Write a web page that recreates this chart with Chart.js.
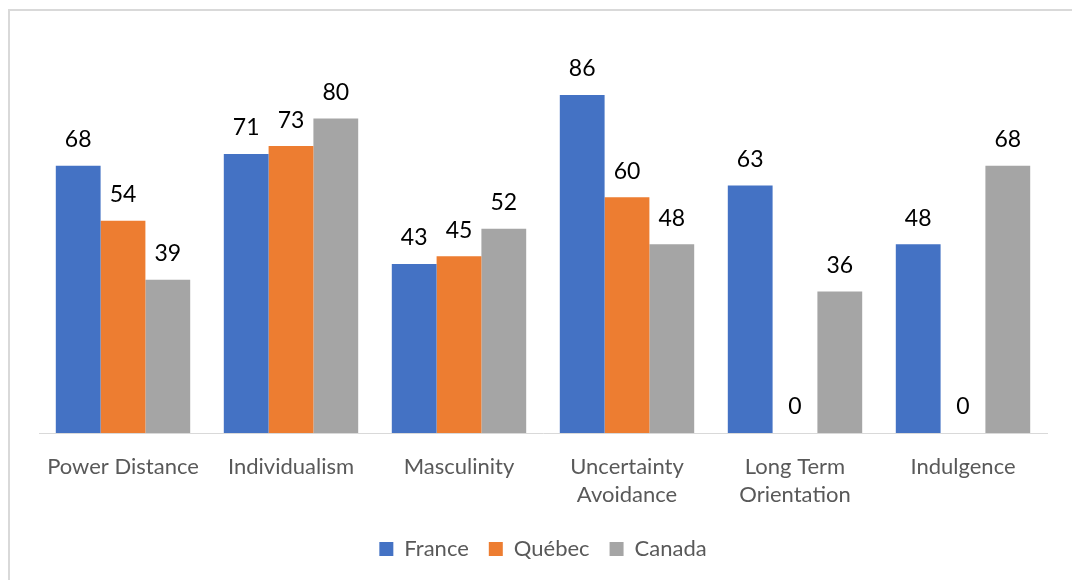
<!DOCTYPE html>
<html>
<head>
<meta charset="utf-8">
<script src="https://cdn.jsdelivr.net/npm/chart.js@4/dist/chart.umd.min.js"></script>
<style>
  html, body { margin: 0; padding: 0; background: #fff; }
  #wrap { position: relative; width: 1072px; height: 580px; overflow: hidden; }
  #frame { position: absolute; left: 8px; top: 9px; width: 1080px; height: 600px;
           border: 2px solid #d9d9d9; box-sizing: border-box; }
  canvas { position: absolute; left: 0; top: 0; }
</style>
</head>
<body>
<div id="wrap">
  <div id="frame"></div>
  <canvas id="hofstedeChart" width="1072" height="580"></canvas>
</div>
<script>
// dimensions and scores
const dimensions = ["Power Distance", "Individualism", "Masculinity",
  ["Uncertainty", "Avoidance"], ["Long Term", "Orientation"], "Indulgence"];
const france = [68, 71, 43, 86, 63, 48];
const quebec = [54, 73, 45, 60, 0, 0];
const canada = [39, 80, 52, 48, 36, 68];

// value labels above each bar
const barLabels = {
  id: "barLabels",
  afterDatasetsDraw(chart) {
    const ctx = chart.ctx;
    ctx.save();
    ctx.font = "23px Lato";
    ctx.fillStyle = "#000";
    ctx.textAlign = "center";
    ctx.textBaseline = "middle";
    chart.data.datasets.forEach((ds, i) => {
      chart.getDatasetMeta(i).data.forEach((bar, j) => {
        ctx.fillText(ds.data[j], bar.x, bar.y - 26);
      });
    });
    ctx.restore();
  }
};

new Chart(document.getElementById("hofstedeChart"), {
  type: "bar",
  data: {
    labels: dimensions,
    datasets: [
      { label: "France", data: france, backgroundColor: "#4472C4" },
      { label: "Québec", data: quebec, backgroundColor: "#ED7D31" },
      { label: "Canada", data: canada, backgroundColor: "#A5A5A5" }
    ]
  },
  options: {
    responsive: false,
    animation: false,
    devicePixelRatio: 1,
    layout: { padding: { left: 39, right: 25, top: 40, bottom: 10 } },
    datasets: { bar: { categoryPercentage: 0.8, barPercentage: 1.0 } },
    scales: {
      x: {
        grid: { display: false },
        border: { display: true, color: "#d9d9d9", width: 1 },
        ticks: {
          color: "#595959",
          font: { family: "Lato", size: 22, lineHeight: 1.27 },
          padding: 12,
          maxRotation: 0,
          autoSkip: false
        },
        afterFit(scale) { scale.height = 85; }
      },
      y: { display: false, min: 0, max: 100 }
    },
    plugins: {
      legend: {
        position: "bottom",
        labels: {
          color: "#595959",
          font: { family: "Lato", size: 22 },
          boxWidth: 14,
          boxHeight: 14,
          padding: 20
        }
      },
      tooltip: { enabled: false }
    }
  },
  plugins: [barLabels]
});
</script>
</body>
</html>
